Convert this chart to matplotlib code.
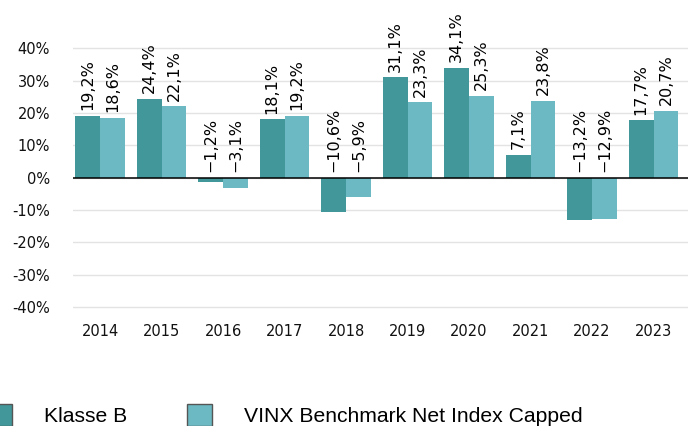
import numpy as np
import matplotlib
matplotlib.use("Agg")
import matplotlib.pyplot as plt
from matplotlib.patches import Patch

years = ["2014", "2015", "2016", "2017", "2018", "2019", "2020", "2021", "2022", "2023"]
klasse_b = [19.2, 24.4, -1.2, 18.1, -10.6, 31.1, 34.1, 7.1, -13.2, 17.7]
vinx = [18.6, 22.1, -3.1, 19.2, -5.9, 23.3, 25.3, 23.8, -12.9, 20.7]
series_names = ["Klasse B", "VINX Benchmark Net Index Capped"]
yticks = [-40, -30, -20, -10, 0, 10, 20, 30, 40]

dark = "#41979a"
light = "#6cb9c3"

fig = plt.figure(figsize=(6.88, 4.26), dpi=100)
ax = fig.add_axes([73 / 688, 1 - 323 / 426, 1 - 73 / 688, 323 / 426])

x = np.arange(len(years))
w = 0.405
b1 = ax.bar(x - w / 2, klasse_b, w, color=dark, zorder=3)
b2 = ax.bar(x + w / 2, vinx, w, color=light, zorder=3)

# labels sit above the bar, or above the zero line for negatives
for bars, vals in [(b1, klasse_b), (b2, vinx)]:
    for rect, v in zip(bars, vals):
        txt = f"{v:.1f}%".replace(".", ",").replace("-", "\u2212")
        ax.annotate(txt, (rect.get_x() + rect.get_width() / 2, max(v, 0)),
                    xytext=(0, 4), textcoords="offset points",
                    rotation=90, ha="center", va="bottom", fontsize=11.5,
                    color="black")

ax.set_ylim(-45, 55)
ax.set_xlim(-0.44, 9.56)
ax.set_yticks(yticks)
ax.set_yticklabels([f"{t}%" for t in yticks])
ax.set_xticks(x)
ax.set_xticklabels(years)
ax.tick_params(axis="both", length=0, labelsize=10.5, colors="#111111")
ax.tick_params(axis="y", pad=16.5)
ax.tick_params(axis="x", pad=1)
for s in ax.spines.values():
    s.set_visible(False)
ax.grid(axis="y", color="#e3e3e3", lw=1, zorder=0)
ax.axhline(0, color="black", lw=1.1, zorder=4)

handles = [Patch(facecolor=dark, edgecolor="#555555", lw=1),
           Patch(facecolor=light, edgecolor="#555555", lw=1)]
fig.legend(handles, series_names, loc="lower left",
           bbox_to_anchor=(-13 / 688, 0), ncol=2, frameon=False,
           prop={"family": "Liberation Sans", "size": 15.2},
           handlelength=1.18, handleheight=1.18, handletextpad=1.5,
           columnspacing=2.85, borderpad=0, borderaxespad=0)

fig.savefig("out.png", dpi=100)
